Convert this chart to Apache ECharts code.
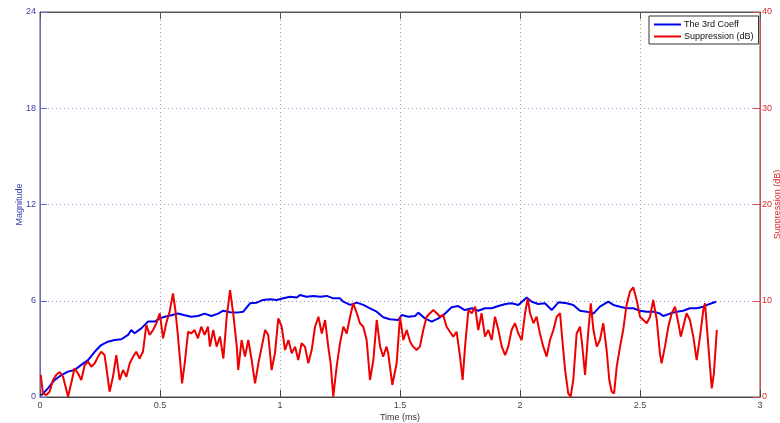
<!DOCTYPE html>
<html>
<head>
<meta charset="utf-8">
<title>Coefficient magnitude and suppression</title>
<script src="https://cdn.jsdelivr.net/npm/echarts@6/dist/echarts.min.js"></script>
<style>
  html, body { margin: 0; padding: 0; background: #fff; }
  #chart { width: 780px; height: 423px; }
</style>
</head>
<body>
<div id="chart"></div>
<script>
// Time axis ticks (ms)
const timeTicks = [0, 0.5, 1, 1.5, 2, 2.5, 3];

// The 3rd coefficient magnitude over time
const coeffTime = [0.005,0.033,0.061,0.089,0.117,0.144,0.172,0.2,0.228,0.255,0.283,0.311,0.339,0.367,0.38,0.394,0.422,0.45,0.478,0.499,0.52,0.547,0.575,0.603,0.63,0.658,0.686,0.714,0.742,0.764,0.792,0.82,0.847,0.875,0.903,0.93,0.958,0.986,1.014,1.042,1.07,1.083,1.11,1.139,1.167,1.195,1.222,1.25,1.264,1.292,1.32,1.347,1.375,1.403,1.43,1.458,1.493,1.507,1.535,1.563,1.576,1.604,1.632,1.66,1.688,1.715,1.743,1.77,1.8,1.826,1.854,1.882,1.91,1.94,1.965,1.993,2.028,2.049,2.076,2.104,2.132,2.16,2.194,2.222,2.25,2.278,2.306,2.333,2.368,2.389,2.417,2.444,2.472,2.5,2.528,2.555,2.583,2.597,2.625,2.653,2.68,2.708,2.736,2.764,2.79,2.817];
const coeffMag = [0.1,0.54,1.06,1.37,1.58,1.68,2.0,2.3,2.82,3.24,3.45,3.55,3.6,3.87,4.18,3.97,4.28,4.7,4.7,4.9,5.0,5.1,5.2,5.1,5.0,5.05,5.2,5.05,5.2,5.38,5.28,5.26,5.32,5.84,5.88,6.05,6.09,6.05,6.15,6.25,6.2,6.36,6.25,6.3,6.25,6.3,6.15,6.15,5.94,5.74,5.88,5.74,5.53,5.32,4.97,4.85,4.8,5.11,5.0,5.05,5.26,4.9,4.7,4.9,5.2,5.59,5.67,5.42,5.53,5.38,5.53,5.53,5.67,5.8,5.84,5.74,6.2,5.94,5.8,5.84,5.42,5.9,5.84,5.74,5.38,5.32,5.2,5.63,5.94,5.74,5.63,5.53,5.53,5.38,5.32,5.32,5.2,5.05,5.2,5.32,5.38,5.53,5.53,5.63,5.8,5.94];

// Suppression (dB) over time
const suppTime = [0.003,0.012,0.026,0.04,0.054,0.068,0.082,0.096,0.11,0.117,0.13,0.144,0.158,0.172,0.186,0.2,0.214,0.228,0.242,0.255,0.269,0.276,0.29,0.304,0.318,0.332,0.346,0.36,0.374,0.388,0.401,0.415,0.429,0.443,0.457,0.471,0.485,0.499,0.513,0.526,0.54,0.554,0.564,0.575,0.592,0.603,0.617,0.63,0.644,0.658,0.672,0.686,0.7,0.708,0.722,0.736,0.75,0.764,0.778,0.792,0.805,0.82,0.826,0.84,0.854,0.868,0.882,0.896,0.91,0.924,0.938,0.951,0.965,0.979,0.993,1.007,1.021,1.035,1.049,1.063,1.076,1.09,1.104,1.118,1.132,1.146,1.16,1.174,1.188,1.201,1.211,1.222,1.236,1.25,1.264,1.278,1.292,1.305,1.32,1.333,1.347,1.361,1.375,1.389,1.403,1.417,1.43,1.444,1.451,1.468,1.486,1.5,1.514,1.528,1.542,1.555,1.569,1.583,1.597,1.611,1.625,1.639,1.653,1.667,1.68,1.694,1.708,1.722,1.736,1.75,1.761,1.771,1.785,1.799,1.813,1.826,1.84,1.854,1.868,1.882,1.896,1.91,1.924,1.938,1.951,1.965,1.979,1.993,2.007,2.021,2.032,2.042,2.056,2.069,2.083,2.097,2.111,2.125,2.139,2.153,2.167,2.174,2.188,2.201,2.211,2.222,2.236,2.25,2.257,2.271,2.285,2.295,2.306,2.32,2.333,2.347,2.361,2.372,2.382,2.392,2.403,2.417,2.43,2.444,2.458,2.472,2.486,2.5,2.514,2.528,2.542,2.555,2.57,2.583,2.59,2.604,2.618,2.632,2.646,2.66,2.67,2.68,2.694,2.708,2.722,2.736,2.75,2.764,2.771,2.785,2.799,2.808,2.82];
const suppDb = [2.3,0.4,0.2,0.55,1.77,2.3,2.6,2.1,0.73,0.03,1.42,2.98,2.46,1.77,3.3,3.67,3.15,3.5,4.2,4.7,4.36,3.15,0.55,2.1,4.36,1.77,2.8,2.1,3.5,4.2,4.7,4.0,4.7,7.5,6.45,6.96,7.66,8.7,6.1,7.66,8.86,10.77,9.04,6.27,1.42,3.5,6.78,6.6,6.96,6.1,7.3,6.45,7.3,5.23,6.96,5.23,6.27,4.0,8.34,11.1,8.7,5.23,2.8,5.92,4.19,5.92,3.84,1.42,3.5,5.23,6.96,6.45,2.8,4.54,8.18,7.3,4.88,5.92,4.54,5.23,3.84,5.58,5.23,3.5,4.88,7.3,8.34,6.6,8.0,5.23,3.5,0.03,3.15,5.58,7.3,6.6,8.34,9.73,8.7,7.66,7.3,5.92,1.77,3.84,8.0,5.23,4.19,5.23,4.54,1.25,3.5,8.34,5.92,6.96,5.75,5.23,4.88,5.23,6.96,8.34,8.7,9.04,8.7,8.34,8.52,7.3,6.78,6.27,6.78,4.19,1.77,5.23,9.04,8.7,9.38,6.96,8.7,6.27,6.96,5.92,8.34,6.96,5.23,4.36,5.23,6.96,7.66,6.6,5.92,8.7,10.25,8.7,7.66,8.34,6.6,5.23,4.19,5.92,6.96,8.34,8.7,6.6,2.8,0.38,0.03,1.77,6.6,7.3,5.92,2.3,6.96,9.73,6.96,5.23,5.92,7.66,4.88,1.77,0.55,0.38,3.15,5.23,6.96,9.56,10.94,11.4,10.08,8.34,8.0,7.66,8.34,10.08,8.0,4.54,3.5,5.23,7.3,8.7,9.38,7.66,6.27,7.3,8.7,8.0,6.27,3.84,6.27,9.04,9.73,5.23,0.9,2.46,6.96];

const pairs = (xs, ys) => xs.map((x, i) => [x, ys[i]]);

const FONT = 'Liberation Sans, Arial, sans-serif';
const LEFT_COLOR = '#3b3bb0';
const RIGHT_COLOR = '#d42a2a';

const chart = echarts.init(document.getElementById('chart'), null, { renderer: 'canvas' });

chart.setOption({
  animation: false,
  backgroundColor: '#ffffff',
  textStyle: { fontFamily: FONT },
  grid: {
    left: 40, right: 20, top: 12, bottom: 26,
    containLabel: false,
    outerBoundsMode: 'none',
    show: true, borderColor: '#555555', borderWidth: 1, backgroundColor: '#ffffff'
  },
  legend: {
    orient: 'vertical',
    left: 649, top: 16,
    padding: [4, 5, 3, 5],
    itemGap: 3,
    itemWidth: 27, itemHeight: 2,
    icon: 'rect',
    backgroundColor: '#ffffff',
    borderColor: '#333333', borderWidth: 1,
    textStyle: { fontSize: 9, color: '#111111', fontFamily: FONT, padding: [0, 0, 0, -2] },
    data: ['The 3rd Coeff', 'Suppression (dB)']
  },
  xAxis: [{
    type: 'value',
    min: timeTicks[0], max: timeTicks[timeTicks.length - 1], interval: 0.5,
    name: 'Time (ms)', nameLocation: 'middle', nameGap: 16, nameMoveOverlap: false,
    nameTextStyle: { fontSize: 9, color: '#333333', fontFamily: FONT },
    axisLine: { show: true, onZero: false, lineStyle: { color: '#444444', width: 1 } },
    axisTick: { show: true, inside: true, length: 7, lineStyle: { color: '#444444' } },
    axisLabel: { fontSize: 9, color: '#444444', margin: 4, fontFamily: FONT },
    splitLine: { show: true, lineStyle: { color: '#9a9a9a', type: [1, 3], width: 1 } }
  }, {
    type: 'value', position: 'top',
    min: timeTicks[0], max: timeTicks[timeTicks.length - 1], interval: 0.5,
    axisLine: { show: true, onZero: false, lineStyle: { color: '#555555', width: 1 } },
    axisTick: { show: true, inside: true, length: 7, lineStyle: { color: '#555555' } },
    axisLabel: { show: false },
    splitLine: { show: false }
  }],
  yAxis: [{
    type: 'value', position: 'left',
    min: 0, max: 24, interval: 6,
    name: 'Magnitude', nameLocation: 'middle', nameGap: 16, nameRotate: 90, nameMoveOverlap: false,
    nameTextStyle: { fontSize: 9, color: LEFT_COLOR, fontFamily: FONT },
    axisLine: { show: true, onZero: false, lineStyle: { color: '#6a6ad0', width: 1 } },
    axisTick: { show: true, inside: true, length: 7, lineStyle: { color: '#6a6ad0' } },
    axisLabel: { fontSize: 9, color: LEFT_COLOR, margin: 4, fontFamily: FONT },
    splitLine: { show: true, lineStyle: { color: '#9090d8', type: [1, 3], width: 1 } }
  }, {
    type: 'value', position: 'right',
    min: 0, max: 40, interval: 10,
    name: 'Suppression (dB)', nameLocation: 'middle', nameGap: 13, nameRotate: 90, nameMoveOverlap: false,
    nameTextStyle: { fontSize: 9, color: RIGHT_COLOR, fontFamily: FONT },
    axisLine: { show: true, onZero: false, lineStyle: { color: '#e04848', width: 1 } },
    axisTick: { show: true, inside: true, length: 7, lineStyle: { color: '#e04848' } },
    axisLabel: { fontSize: 9, color: RIGHT_COLOR, margin: 2, fontFamily: FONT },
    splitLine: { show: false }
  }],
  series: [{
    name: 'The 3rd Coeff',
    type: 'line', xAxisIndex: 0, yAxisIndex: 0,
    data: pairs(coeffTime, coeffMag),
    showSymbol: false, symbol: 'none',
    itemStyle: { color: '#0000ee' },
    lineStyle: { color: '#0000ee', width: 2 },
    z: 3
  }, {
    name: 'Suppression (dB)',
    type: 'line', xAxisIndex: 0, yAxisIndex: 1,
    data: pairs(suppTime, suppDb),
    showSymbol: false, symbol: 'none',
    itemStyle: { color: '#ee0000' },
    lineStyle: { color: '#ee0000', width: 2 },
    z: 4
  }]
});
</script>
</body>
</html>
